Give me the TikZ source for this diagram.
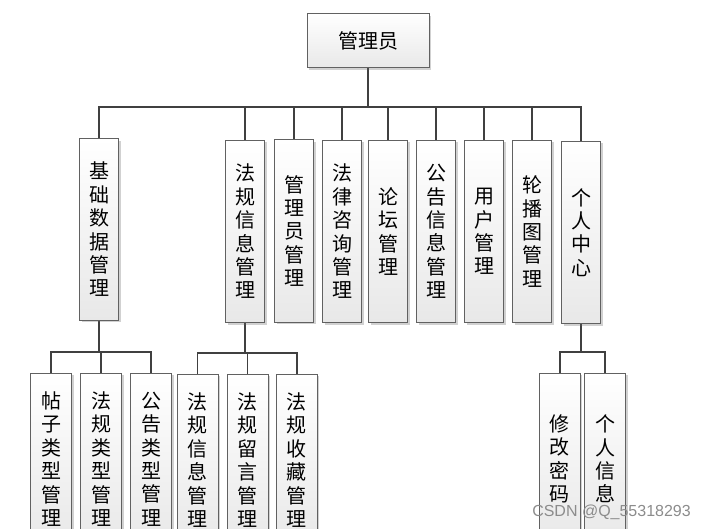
\documentclass[tikz,border=0pt]{standalone}
\usepackage{fontspec}
\setmainfont{Noto Sans CJK SC}
\newfontfamily\wmfont{Liberation Sans}
\usetikzlibrary{shadows,backgrounds}

\tikzset{
 box/.style={draw=black!62, line width=1pt, top color=white, bottom color=black!9,
   drop shadow={shadow xshift=2pt, shadow yshift=-2pt, opacity=0.3, fill=black!60},
   inner sep=0pt, align=center, font=\fontsize{20pt}{23.4pt}\selectfont},
 vbox/.style={box, minimum width=39pt, minimum height=182pt},
 lbox/.style={box, minimum width=41pt, minimum height=172pt},
 link/.style={draw=black!75, line width=1.8pt},
}

\begin{document}
\begin{tikzpicture}[x=1pt,y=-1pt]
\useasboundingbox (0,0) rectangle (706,529);
\clip (0,0) rectangle (706,529);

\node[box, minimum width=122pt, minimum height=54pt] (top) at (368,41) {管理员};

\node[vbox, minimum height=181pt] (jc) at (99,229.5) {基\\础\\数\\据\\管\\理};
\node[vbox] (fg) at (245,231.5) {法\\规\\信\\息\\管\\理};
\node[vbox] (gly) at (294,231) {管\\理\\员\\管\\理};
\node[vbox] (fl) at (342,231.5) {法\\律\\咨\\询\\管\\理};
\node[vbox] (lt) at (388,231.5) {论\\坛\\管\\理};
\node[vbox] (gg) at (436,231.5) {公\\告\\信\\息\\管\\理};
\node[vbox] (yh) at (484,231.5) {用\\户\\管\\理};
\node[vbox] (lb) at (532,231.5) {轮\\播\\图\\管\\理};
\node[vbox] (gr) at (581,232.5) {个\\人\\中\\心};

\node[lbox] (tz) at (51,459) {帖\\子\\类\\型\\管\\理};
\node[lbox] (fllx) at (101,459) {法\\规\\类\\型\\管\\理};
\node[lbox] (gglx) at (151,459) {公\\告\\类\\型\\管\\理};
\node[lbox] (fgxx) at (197.5,460) {法\\规\\信\\息\\管\\理};
\node[lbox] (fgly) at (247.5,460) {法\\规\\留\\言\\管\\理};
\node[lbox] (fgsc) at (296.7,460) {法\\规\\收\\藏\\管\\理};
\node[lbox] (xgmm) at (559.7,459) {修\\改\\密\\码};
\node[lbox] (grxx) at (605,459) {个\\人\\信\\息};

\coordinate (bus) at (0,107);
\coordinate (busA) at (0,352);
\coordinate (busB) at (0,353);
\coordinate (busC) at (0,352);

\begin{scope}[on background layer]
\draw[link] (top.south) -- (top.south |- bus);
\foreach \n in {jc,fg,gly,fl,lt,gg,yh,lb,gr}
  \draw[link] (top.south |- bus) -| (\n.north);
\foreach \n in {tz,fllx,gglx}
  \draw[link] (jc.south) -- (jc.south |- busA) -| (\n.north);
\foreach \n in {fgxx,fgly,fgsc}
  \draw[link] (fg.south) -- (fg.south |- busB) -| (\n.north);
\foreach \n in {xgmm,grxx}
  \draw[link] (gr.south) -- (gr.south |- busC) -| (\n.north);
\end{scope}

\node[font=\wmfont\fontsize{16pt}{16pt}\selectfont, text=black!45, anchor=east, inner sep=0pt] (wm) at (691,512) {CSDN @Q\_55318293};
\end{tikzpicture}
\end{document}
